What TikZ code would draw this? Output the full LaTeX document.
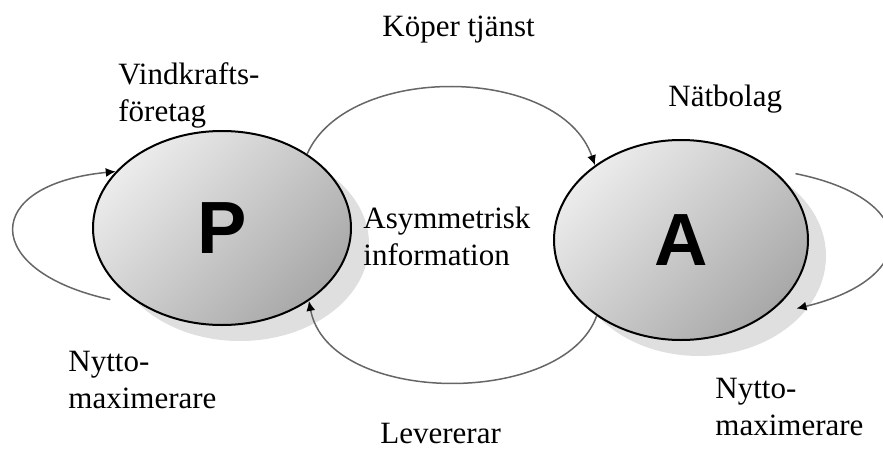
\documentclass[tikz,border=0pt]{standalone}
\usepackage{fontspec}
\setmainfont{Liberation Serif}
\newfontfamily\lettfont{Liberation Sans}
\usetikzlibrary{shapes.geometric,shadows,arrows.meta}
\tikzset{
diagram/.style={
    x=0.5pt,
    y=-0.5pt,
    >={Latex[length=5pt,width=4.5pt,black]},
    font=\fontsize{15.5}{18.5}\selectfont
},
agent/.style={
    ellipse,
    draw,
    line width=1pt,
    inner sep=0pt,
    top color=gray!15,
    bottom color=gray!68,
    shading angle=45,
    drop shadow={shadow xshift=9pt, shadow yshift=-8pt, fill=gray!25, opacity=1}
},
letter/.style={
    font=\lettfont\bfseries\fontsize{37}{37}\selectfont
},
lbl/.style={
    anchor=base west,
    inner sep=0pt,
    align=left
},
sees/.style={
    ->,
    draw=black!60,
    line width=0.75pt
}}

\begin{document}
\begin{tikzpicture}[diagram]
\useasboundingbox (0,0) rectangle (883,449);

\node    (p)  [agent, letter, minimum width=129pt, minimum height=97pt]  at (222,228) {P};
\node    (a)  [agent, letter, minimum width=127pt, minimum height=100pt] at (681,240) {A};

% base of a two-line label is its last line
\node    (koper) [lbl] at (382,37)  {Köper tjänst};
\node    (vind)  [lbl] at (118,122) {Vindkrafts-\\företag};
\node    (natb)  [lbl] at (668,107) {Nätbolag};
\node    (asym)  [lbl] at (363,265) {Asymmetrisk\\information};
\node    (nytp)  [lbl] at (68,408)  {Nytto-\\maximerare};
\node    (nyta)  [lbl] at (715,435) {Nytto-\\maximerare};
\node    (lev)   [lbl] at (380,443) {Levererar};

\draw[sees] (p.41)  .. controls +(40,-91) and +(-35,-101) .. (a.139);
\draw[sees] (a.222) .. controls +(-33,92) and +(20,105)   .. (p.320);
\draw[sees, shorten <=18pt] (p.226) .. controls +(-165,-36) and +(-135,13) .. (p.152);
\draw[sees, shorten <=12pt, shorten >=16pt] (a.38) .. controls +(150,30) and +(155,-37) .. (a.318);
\end{tikzpicture}
\end{document}
